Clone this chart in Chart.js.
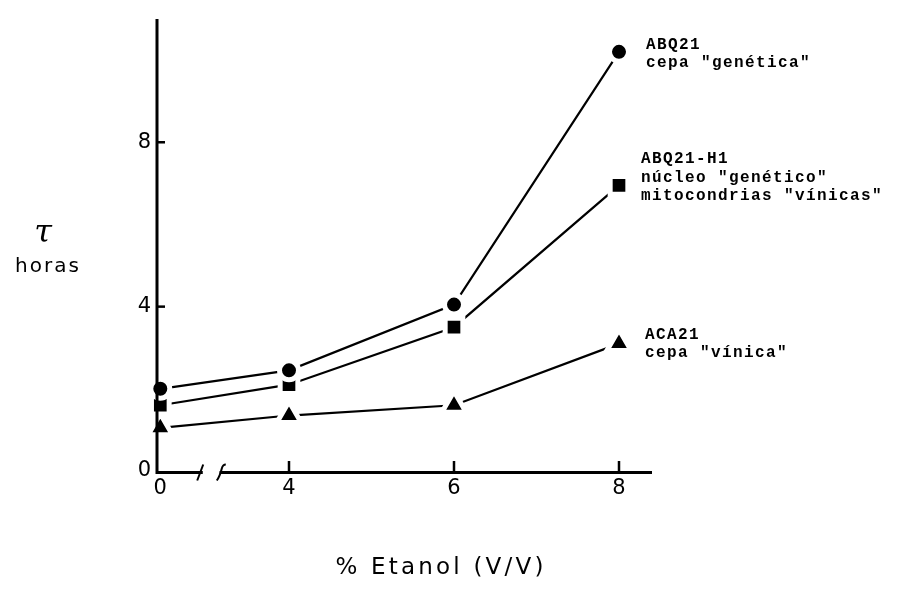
<!DOCTYPE html>
<html>
<head>
<meta charset="utf-8">
<script src="https://cdn.jsdelivr.net/npm/chart.js@4.4.1/dist/chart.umd.min.js"></script>
<style>
  html, body { margin: 0; padding: 0; background: #fff; }
  #wrap { width: 897px; height: 590px; position: relative; }
</style>
</head>
<body>
<div id="wrap"><canvas id="chart"></canvas></div>
<script>
// ethanol concentration (% V/V) and doubling time in hours per strain
const xValues = [0, 4, 6, 8];
const abq21 = [2.0, 2.45, 4.05, 10.2];
const abq21h1 = [1.6, 2.1, 3.5, 6.95];
const aca21 = [1.05, 1.35, 1.6, 3.1];
const yTicks = [0, 4, 8];

const seriesLabels = [
  ["ABQ21", 'cepa "genética"'],
  ["ABQ21-H1", 'núcleo "genético"', 'mitocondrias "vínicas"'],
  ["ACA21", 'cepa "vínica"'],
];

// the x axis is broken between 0 and 4: values below the break are shifted right
const xBreak = 4;
const xShift = 2.44;
const toAxis = (v) => (v < xBreak ? v + xShift : v);

const toPoints = (ys) => xValues.map((x, i) => ({ x: toAxis(x), y: ys[i] }));

const axisFont = "DejaVu Sans, sans-serif";

const axesPlugin = {
  id: "axesPlugin",
  afterDatasetsDraw(chart) {
    const { ctx, chartArea, scales } = chart;
    const xs = scales.x;
    const ys = scales.y;
    ctx.save();
    ctx.strokeStyle = "#000";
    ctx.lineCap = "butt";

    // axis lines
    ctx.lineWidth = 3;
    ctx.beginPath();
    ctx.moveTo(chartArea.left, chartArea.top);
    ctx.lineTo(chartArea.left, chartArea.bottom + 1.5);
    ctx.lineTo(chartArea.right, chartArea.bottom + 1.5);
    ctx.stroke();

    // inward tick marks
    ctx.lineWidth = 2.5;
    yTicks.slice(1).forEach((v) => {
      const py = ys.getPixelForValue(v);
      ctx.beginPath();
      ctx.moveTo(chartArea.left, py);
      ctx.lineTo(chartArea.left + 8, py);
      ctx.stroke();
    });
    xValues.slice(1).forEach((v) => {
      const px = xs.getPixelForValue(toAxis(v));
      ctx.beginPath();
      ctx.moveTo(px, chartArea.bottom);
      ctx.lineTo(px, chartArea.bottom - 10);
      ctx.stroke();
    });

    // break marks between 0 and 4
    const p0 = xs.getPixelForValue(toAxis(0));
    const p4 = xs.getPixelForValue(toAxis(xBreak));
    const span = p4 - p0;
    const yb = chartArea.bottom + 1.5;
    ctx.fillStyle = "#fff";
    ctx.fillRect(p0 + span * 0.33, yb - 3, span * 0.13, 6);
    ctx.lineWidth = 2;
    [0.31, 0.47].forEach((f, i) => {
      const px = p0 + span * f;
      ctx.beginPath();
      if (i === 0) {
        ctx.moveTo(px - 3, yb + 8);
        ctx.lineTo(px + 3, yb - 8);
      } else {
        ctx.moveTo(px - 4, yb + 8);
        ctx.quadraticCurveTo(px - 1, yb + 4, px + 1, yb - 4);
        ctx.quadraticCurveTo(px + 2, yb - 8, px + 5, yb - 8);
      }
      ctx.stroke();
    });
    ctx.restore();
  },
  afterDraw(chart) {
    const { ctx } = chart;
    ctx.save();
    ctx.fillStyle = "#000";

    // strain labels beside the last point of each series
    ctx.font = "bold 16px 'Liberation Mono', monospace";
    ctx.letterSpacing = "1.4px";
    ctx.textAlign = "left";
    ctx.textBaseline = "alphabetic";
    const dx = [27, 22, 26];
    const dy = [-3, -22, -5];
    seriesLabels.forEach((lines, i) => {
      const meta = chart.getDatasetMeta(i);
      const last = meta.data[meta.data.length - 1];
      lines.forEach((line, j) => {
        ctx.fillText(line, last.x + dx[i], last.y + dy[i] + j * 18.5);
      });
    });

    // y axis title
    ctx.letterSpacing = "0px";
    ctx.textAlign = "center";
    ctx.font = "italic 32px 'DejaVu Serif', serif";
    ctx.fillText("τ", 43, 242);
    ctx.font = "20px " + axisFont;
    ctx.letterSpacing = "2px";
    ctx.fillText("horas", 48, 272);

    // x axis title
    ctx.font = "23px " + axisFont;
    ctx.letterSpacing = "3.2px";
    ctx.fillText("% Etanol (V/V)", 441, 574);
    ctx.restore();
  },
};

const baseDataset = {
  borderColor: "#000",
  borderWidth: 2.2,
  pointBackgroundColor: "#000",
  pointBorderColor: "#fff",
  pointBorderWidth: 5,
  tension: 0,
  fill: false,
  clip: false,
};

const ctx = document.getElementById("chart").getContext("2d");

const chart = new Chart(ctx, {
  type: "line",
  data: {
    datasets: [
      { ...baseDataset, label: seriesLabels[0][0], data: toPoints(abq21), pointStyle: "circle", pointRadius: 9.5 },
      { ...baseDataset, label: seriesLabels[1][0], data: toPoints(abq21h1), pointStyle: "rect", pointRadius: 12.5 },
      { ...baseDataset, label: seriesLabels[2][0], data: toPoints(aca21), pointStyle: "triangle", pointRadius: 14 },
    ],
  },
  options: {
    responsive: true,
    maintainAspectRatio: false,
    animation: false,
    events: [],
    layout: { padding: { top: 12, right: 245, left: 0, bottom: 0 } },
    plugins: {
      legend: { display: false },
      tooltip: { enabled: false },
    },
    scales: {
      x: {
        type: "linear",
        min: 2.4,
        max: 8.4,
        grid: { display: false, drawTicks: false },
        border: { display: false },
        afterFit(scale) {
          scale.height = 119;
        },
        afterBuildTicks(scale) {
          scale.ticks = xValues.map((v) => ({ value: toAxis(v) }));
        },
        ticks: {
          color: "#000",
          padding: 7,
          maxRotation: 0,
          autoSkip: false,
          font: { family: axisFont, size: 21, lineHeight: 1 },
          callback: (value, index) => String(xValues[index]),
        },
      },
      y: {
        min: 0,
        max: 11,
        grid: { display: false, drawTicks: false },
        border: { display: false },
        afterFit(scale) {
          scale.width = 157;
        },
        afterBuildTicks(scale) {
          scale.ticks = yTicks.map((v) => ({ value: v }));
        },
        ticks: {
          color: "#000",
          padding: 6,
          font: { family: axisFont, size: 21, lineHeight: 1 },
          callback: (value) => String(value),
        },
      },
    },
  },
  plugins: [axesPlugin],
});
</script>
</body>
</html>
